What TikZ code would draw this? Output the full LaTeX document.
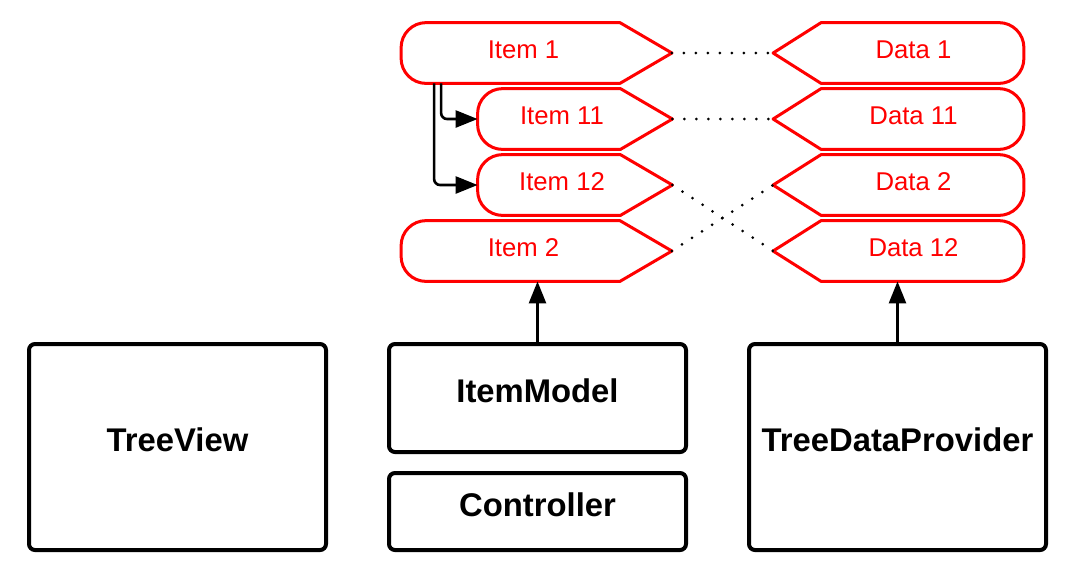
\documentclass[tikz,border=0pt]{standalone}
\usepackage{fontspec}
\setmainfont{Liberation Sans}
\usetikzlibrary{arrows.meta}

\begin{document}
\begin{tikzpicture}[
    x=0.5pt, y=-0.5pt,
    tag/.style={minimum height=30pt, inner sep=0pt, text=red, font=\fontsize{12.85}{15}\selectfont, text height=0.7em, text depth=0.2em},
    item/.style={tag, minimum width=135pt, execute at end node=\hspace{13pt}},
    data/.style={tag, minimum width=125pt, execute at begin node=\hspace{15pt}},
    redline/.style={draw=red, line width=1.5pt, line join=round},
    box/.style={draw, line width=2pt, rounded corners=3pt, minimum width=148.5pt, font=\fontsize{16.4}{20}\selectfont\bfseries, text height=0.7em, text depth=0.22em},
    arrow/.style={line width=1.3pt, -{Triangle[length=11pt, width=8.5pt]}},
    dots/.style={line width=1.5pt, line cap=round, dash pattern=on 0pt off 6pt}
]
    \useasboundingbox (0,0) rectangle (1072,570);

    % items
    \node[item] (I1) at (536.5,53) {Item 1};
    \node[item, minimum width=97pt] (I11) at (575,119) {Item 11};
    \node[item, minimum width=97pt] (I12) at (575,185) {Item 12};
    \node[item] (I2) at (536.5,251) {Item 2};

    \foreach \n in {I1,I11,I12,I2}
        \draw[redline] ([xshift=-26pt]\n.north east) -- (\n.east) -- ([xshift=-26pt]\n.south east)
            -- ([xshift=12.5pt]\n.south west) arc[start angle=270, end angle=180, radius=12.5pt]
            -- ([yshift=-12.5pt]\n.north west) arc[start angle=180, end angle=90, radius=12.5pt] -- cycle;

    % data
    \foreach \n/\t/\y in {D1/1/53, D11/11/119, D2/2/185, D12/12/251}
        \node[data] (\n) at (898.5,\y) {Data \t};

    \foreach \n in {D1,D11,D2,D12}
        \draw[redline] ([xshift=24pt]\n.north west) -- (\n.west) -- ([xshift=24pt]\n.south west)
            -- ([xshift=-12.5pt]\n.south east) arc[start angle=270, end angle=360, radius=12.5pt]
            -- ([yshift=-12.5pt]\n.north east) arc[start angle=0, end angle=90, radius=12.5pt] -- cycle;

    % item to data
    \draw[dots] (I1.east) -- (D1.west);
    \draw[dots] (I11.east) -- (D11.west);
    \draw[dots] (I12.east) -- (D12.west);
    \draw[dots] (I2.east) -- (D2.west);

    % children
    \draw[arrow, rounded corners=3pt] ([xshift=16.5pt]I1.south west) |- (I12.west);
    \draw[arrow, rounded corners=3pt] ([xshift=20pt]I1.south west) |- (I11.west);

    % boxes
    \node[box, minimum height=103pt] (TV) at (177.5,447) {TreeView};
    \node[box, minimum height=54pt] (IM) at (537.5,398) {ItemModel};
    \node[box, minimum height=38.5pt] (C) at (537.5,511.5) {Controller};
    \node[box, minimum height=103pt] (TDP) at (897.5,447) {TreeDataProvider};

    \draw[arrow] (IM.north) -- (IM.north |- I2.south);
    \draw[arrow] (TDP.north) -- (TDP.north |- D12.south);

\end{tikzpicture}
\end{document}
